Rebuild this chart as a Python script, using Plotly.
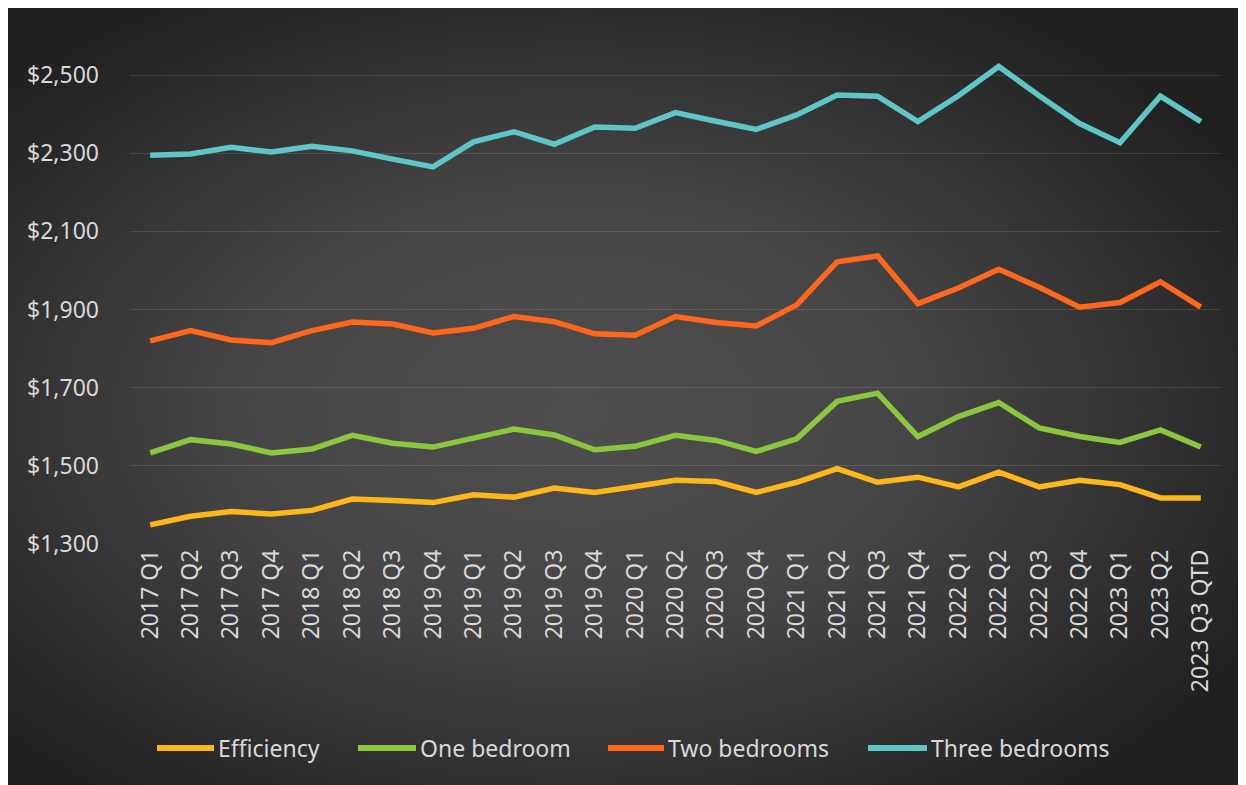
import base64
import plotly.graph_objects as go

categories = ["2017 Q1", "2017 Q2", "2017 Q3", "2017 Q4", "2018 Q1", "2018 Q2", "2018 Q3",
              "2019 Q4", "2019 Q1", "2019 Q2", "2019 Q3", "2019 Q4", "2020 Q1", "2020 Q2",
              "2020 Q3", "2020 Q4", "2021 Q1", "2021 Q2", "2021 Q3", "2021 Q4", "2022 Q1",
              "2022 Q2", "2022 Q3", "2022 Q4", "2023 Q1", "2023 Q2", "2023 Q3 QTD"]

efficiency = [1349, 1371, 1383, 1377, 1386, 1415, 1411, 1406, 1426, 1420, 1443, 1432, 1447, 1463,
              1460, 1432, 1458, 1493, 1458, 1471, 1446, 1484, 1446, 1463, 1452, 1418, 1418]
one_bedroom = [1533, 1567, 1556, 1533, 1543, 1578, 1558, 1548, 1571, 1594, 1579, 1541, 1550, 1578,
               1565, 1537, 1569, 1665, 1686, 1575, 1626, 1662, 1597, 1575, 1560, 1592, 1548]
two_bedrooms = [1820, 1846, 1822, 1815, 1846, 1868, 1863, 1840, 1852, 1882, 1869, 1838, 1834, 1882,
                1867, 1858, 1912, 2022, 2037, 1915, 1955, 2003, 1957, 1906, 1918, 1971, 1906]
three_bedrooms = [2295, 2298, 2315, 2303, 2318, 2306, 2285, 2265, 2329, 2355, 2323, 2367, 2364, 2404,
                  2382, 2361, 2398, 2449, 2446, 2381, 2447, 2522, 2447, 2376, 2327, 2446, 2381]

y_ticks = [1300, 1500, 1700, 1900, 2100, 2300, 2500]
y_tick_labels = ["$1,300", "$1,500", "$1,700", "$1,900", "$2,100", "$2,300", "$2,500"]

series_names = ["Efficiency", "One bedroom", "Two bedrooms", "Three bedrooms"]
series_values = [efficiency, one_bedroom, two_bedrooms, three_bedrooms]
series_colors = ["#FDB71A", "#8CC63F", "#FF671D", "#5EC6C6"]

# figure geometry (page is offset by 8px body margin)
W, H = 1238, 777
L, R, T, B = 122, 25, 28, 241
pw, ph = W - L - R, H - T - B

x_idx = list(range(len(categories)))

fig = go.Figure()
for name, vals, col in zip(series_names, series_values, series_colors):
    fig.add_trace(go.Scatter(x=x_idx, y=vals, name=name, mode="lines", showlegend=False,
                             line=dict(color=col, width=5.5)))

svg = f"""<svg xmlns='http://www.w3.org/2000/svg' width='{W}' height='{H}' viewBox='0 0 {W} {H}' preserveAspectRatio='none'>
<defs><radialGradient id='g' cx='46%' cy='52%' r='62%' gradientUnits='objectBoundingBox'>
<stop offset='0' stop-color='#4f4f4f'/><stop offset='0.45' stop-color='#454545'/><stop offset='1' stop-color='#212121'/>
</radialGradient></defs><rect width='{W}' height='{H}' fill='url(#g)'/></svg>"""
src = "data:image/svg+xml;base64," + base64.b64encode(svg.encode()).decode()

fig.add_layout_image(dict(
    source=src, xref="paper", yref="paper",
    x=-L / pw, y=(H - B) / ph, sizex=W / pw, sizey=H / ph,
    xanchor="left", yanchor="top", sizing="stretch", layer="below",
))

fnt = dict(family="Noto Sans, Open Sans, sans-serif", size=23, color="#D9D9D9")

# manual legend (page pixel positions -> paper coords)
leg_sym = [(157, 214), (358, 416), (608, 664), (868, 927)]
leg_y_page = 748


def px2x(p):
    return (p - 8 - L) / pw


def py2y(p):
    return (H - B - (p - 8)) / ph


ly = py2y(leg_y_page)
for name, col, (s0, s1) in zip(series_names, series_colors, leg_sym):
    fig.add_shape(type="line", xref="paper", yref="paper", x0=px2x(s0), x1=px2x(s1),
                  y0=ly, y1=ly, line=dict(color=col, width=6))
    fig.add_annotation(text=name, xref="paper", yref="paper", x=px2x(s1 + 2), y=ly,
                       xanchor="left", yanchor="middle", showarrow=False, font=fnt)

fig.update_layout(
    width=W, height=H,
    margin=dict(l=L, r=R, t=T, b=B),
    paper_bgcolor="#2a2a2a",
    plot_bgcolor="rgba(0,0,0,0)",
    font=fnt,
    showlegend=False,
    xaxis=dict(range=[-0.5, len(categories) - 0.5], tickmode="array", tickvals=x_idx,
               ticktext=categories, tickangle=-90, showgrid=False, zeroline=False,
               showline=False, ticks="", tickfont=fnt),
    yaxis=dict(range=[1300, 2600], tickmode="array", tickvals=y_ticks, ticktext=y_tick_labels,
               showgrid=True, gridcolor="rgba(217,217,217,0.14)", gridwidth=1.3, zeroline=False,
               showline=False, ticks="", tickfont=fnt, ticklabelstandoff=30),
)

fig.write_html("out.html")
